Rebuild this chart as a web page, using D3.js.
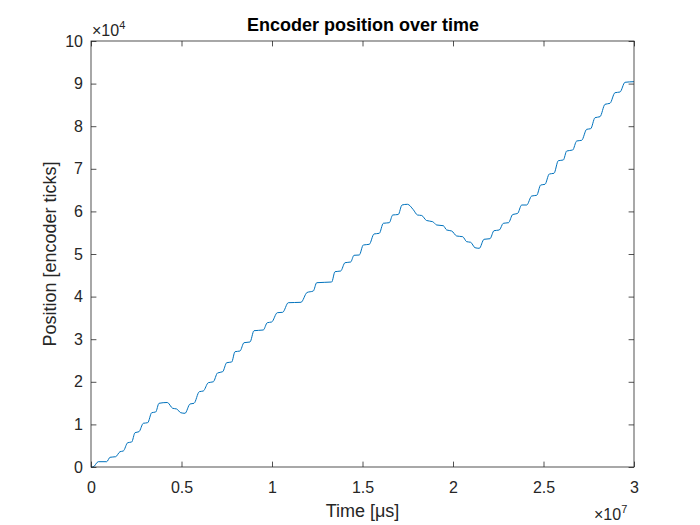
<!DOCTYPE html>
<html><head><meta charset="utf-8">
<script src="https://cdn.jsdelivr.net/npm/d3@7"></script>
<style>body{margin:0;background:#fff}svg{display:block}text{font-family:"Liberation Sans",Arial,Helvetica,sans-serif;fill:#262626}</style>
</head><body><svg id="c" width="700" height="525"></svg>
<script>
// time in microseconds
const timeUs = [0,110000,403000,867000,1050000,1365000,1602000,1785000,2028000,2249000,2431000,2652000,2890000,3133000,3354000,3575000,3757000,4215000,4514000,4735000,4956000,5193000,5470000,5691000,5983000,6204000,6481000,6757000,6989000,7276000,7497000,7773000,7956000,8232000,8453000,8785000,9006000,9519000,9740000,9983000,10293000,10591000,10901000,11602000,11934000,12282000,12470000,13298000,13481000,13796000,14033000,14348000,14530000,14823000,15044000,15376000,15635000,15928000,16149000,16481000,16669000,16978000,17182000,17486000,17807000,18039000,18271000,18536000,18878000,19099000,19464000,19652000,19928000,20204000,20536000,20757000,20978000,21215000,21453000,21713000,22044000,22265000,22558000,22779000,23066000,23298000,23564000,23796000,24072000,24348000,24624000,24845000,25083000,25320000,25580000,25818000,26094000,26282000,26613000,26834000,27110000,27387000,27608000,27845000,28122000,28398000,28674000,28950000,29227000,29503000,30000000];
// position in encoder ticks
const positionTicks = [0,0,1244,1244,2277,2418,3592,3756,5704,5869,8052,8286,10258,10399,12747,12911,14953,15141,13779,13615,12747,12606,14789,14953,17676,17840,19789,20000,22066,22371,24484,24648,27066,27230,29178,29343,31995,32160,33873,34038,36221,36315,38568,38662,40962,41315,43263,43427,45845,46009,47958,48122,49695,49765,52113,52277,54695,54859,57207,57348,59155,59272,61502,61667,60399,59155,59038,57864,57582,56808,56643,55634,55399,54225,54059,52889,52747,51479,51338,53451,53592,55470,55634,57207,57348,59272,59507,61502,61502,63615,63779,66197,66362,68779,68943,71901,72066,74178,74413,76526,76690,79272,79413,81995,82230,85141,85376,87864,88028,90305,90446];
const xTicks = [0,5e6,1e7,1.5e7,2e7,2.5e7,3e7];
const xTickLabels = ["0","0.5","1","1.5","2","2.5","3"];
const yTicks = [0,1e4,2e4,3e4,4e4,5e4,6e4,7e4,8e4,9e4,1e5];
const yTickLabels = ["0","1","2","3","4","5","6","7","8","9","10"];

const svg = d3.select("#c");
const L=91,R=634,T=41,B=467;
const x = d3.scaleLinear().domain([0,3e7]).range([L,R]);
const y = d3.scaleLinear().domain([0,1e5]).range([B,T]);
const axisCol="#262626", tl=5.4, tickFont="16px";

// line
const pts = timeUs.map((t,i)=>[t,positionTicks[i]]);
svg.append("path").datum(pts)
  .attr("d", d3.line().x(d=>x(d[0])).y(d=>y(d[1])).curve(d3.curveMonotoneX))
  .attr("fill","none").attr("stroke","#0072BD").attr("stroke-width",1);

// axes
function styleAxis(g){
  g.select(".domain").remove();
  g.selectAll("line").attr("stroke",axisCol).attr("stroke-width",0.8);
  g.selectAll("text").style("font-size",tickFont).attr("fill",axisCol);
}
svg.append("g").attr("transform",`translate(0,${B})`)
  .call(d3.axisBottom(x).tickValues(xTicks).tickFormat((d,i)=>xTickLabels[i]).tickSizeInner(-tl).tickSizeOuter(0).tickPadding(15))
  .call(styleAxis);
svg.append("g").attr("transform",`translate(0,${T})`)
  .call(d3.axisTop(x).tickValues(xTicks).tickFormat("").tickSizeInner(-tl).tickSizeOuter(0))
  .call(styleAxis);
svg.append("g").attr("transform",`translate(${L},0)`)
  .call(d3.axisLeft(y).tickValues(yTicks).tickFormat((d,i)=>yTickLabels[i]).tickSizeInner(-tl).tickSizeOuter(0).tickPadding(8))
  .call(styleAxis);
svg.append("g").attr("transform",`translate(${R},0)`)
  .call(d3.axisRight(y).tickValues(yTicks).tickFormat("").tickSizeInner(-tl).tickSizeOuter(0))
  .call(styleAxis);
svg.append("rect").attr("x",L).attr("y",T).attr("width",R-L).attr("height",B-T)
  .attr("fill","none").attr("stroke",axisCol).attr("stroke-width",0.8);

// exponent labels
const e4 = svg.append("text").attr("x",L+1).attr("y",T-5).style("font-size",tickFont);
e4.append("tspan").text("×10");
e4.append("tspan").attr("dy",-7).style("font-size","11px").text("4");
const e7 = svg.append("text").attr("x",R-40).attr("y",B+53).style("font-size",tickFont);
e7.append("tspan").text("×10");
e7.append("tspan").attr("dy",-7).style("font-size","11px").text("7");

// title & labels
svg.append("text").attr("x",(L+R)/2+0.5).attr("y",T-10).attr("text-anchor","middle")
  .style("font-size","18px").style("font-weight","bold").style("fill","#000").text("Encoder position over time");
svg.append("text").attr("x",(L+R)/2).attr("y",B+50).attr("text-anchor","middle")
  .style("font-size","18px").text("Time [μs]");
svg.append("text").attr("transform",`translate(${L-35},${(T+B)/2}) rotate(-90)`).attr("text-anchor","middle")
  .style("font-size","18px").text("Position [encoder ticks]");
</script></body></html>
